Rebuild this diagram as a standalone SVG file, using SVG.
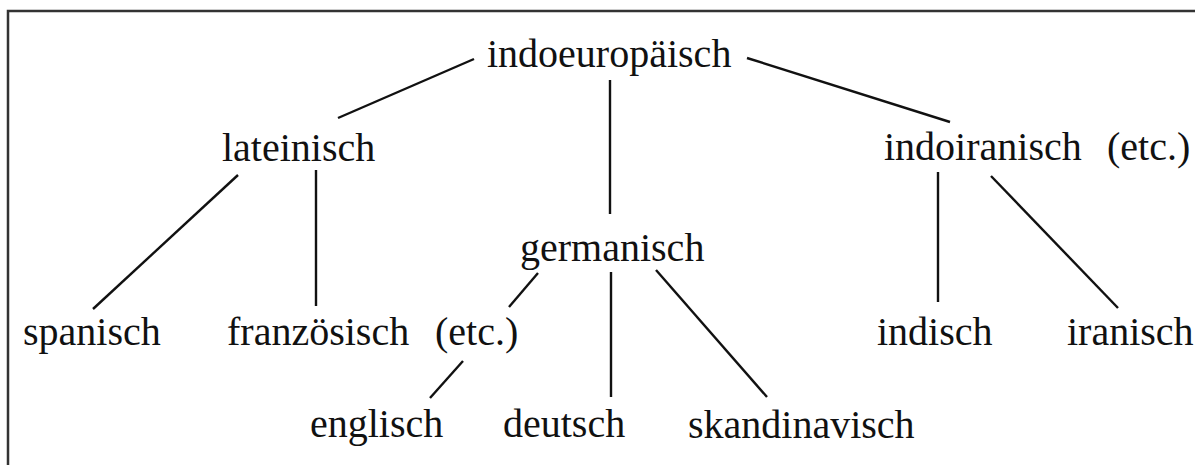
<svg xmlns="http://www.w3.org/2000/svg" width="1195" height="465" viewBox="0 0 1195 465">
<style>
text { font-family: "Liberation Serif", "Times New Roman", serif; font-size: 40px; fill: #111; }
.edge { stroke: #111; stroke-width: 2.4; stroke-linecap: butt; fill: none; }
.frame { stroke: #333; stroke-width: 2.5; fill: none; }
</style>
<rect width="1195" height="465" fill="#ffffff"/>
<path class="frame" d="M8 465 V11 H1195"/>
<g id="connectors">
  <line class="edge" x1="474" y1="59" x2="338" y2="118"/>
  <line class="edge" x1="747" y1="58" x2="950" y2="122"/>
  <line class="edge" x1="610" y1="80" x2="610" y2="214"/>
  <line class="edge" x1="238" y1="175" x2="93" y2="309"/>
  <line class="edge" x1="316" y1="170" x2="316" y2="306"/>
  <line class="edge" x1="538" y1="273" x2="509" y2="307"/>
  <line class="edge" x1="611" y1="272" x2="611" y2="397"/>
  <line class="edge" x1="656" y1="270" x2="767" y2="397"/>
  <line class="edge" x1="463" y1="361" x2="430" y2="398"/>
  <line class="edge" x1="938" y1="172" x2="938" y2="302"/>
  <line class="edge" x1="991" y1="176" x2="1118" y2="308"/>
</g>
<g id="indoeuropaeisch"><text x="487" y="67">indoeuropäisch</text></g>
<g id="lateinisch"><text x="222" y="161">lateinisch</text></g>
<g id="indoiranisch"><text x="884" y="160">indoiranisch</text><text x="1107" y="160">(etc.)</text></g>
<g id="germanisch"><text x="520" y="261">germanisch</text></g>
<g id="spanisch"><text x="23" y="345">spanisch</text></g>
<g id="franzoesisch"><text x="227" y="345">französisch</text><text x="435" y="345">(etc.)</text></g>
<g id="indisch"><text x="877" y="345">indisch</text></g>
<g id="iranisch"><text x="1067" y="345">iranisch</text></g>
<g id="englisch"><text x="310" y="437">englisch</text></g>
<g id="deutsch"><text x="503" y="437">deutsch</text></g>
<g id="skandinavisch"><text x="688" y="438">skandinavisch</text></g>
</svg>
